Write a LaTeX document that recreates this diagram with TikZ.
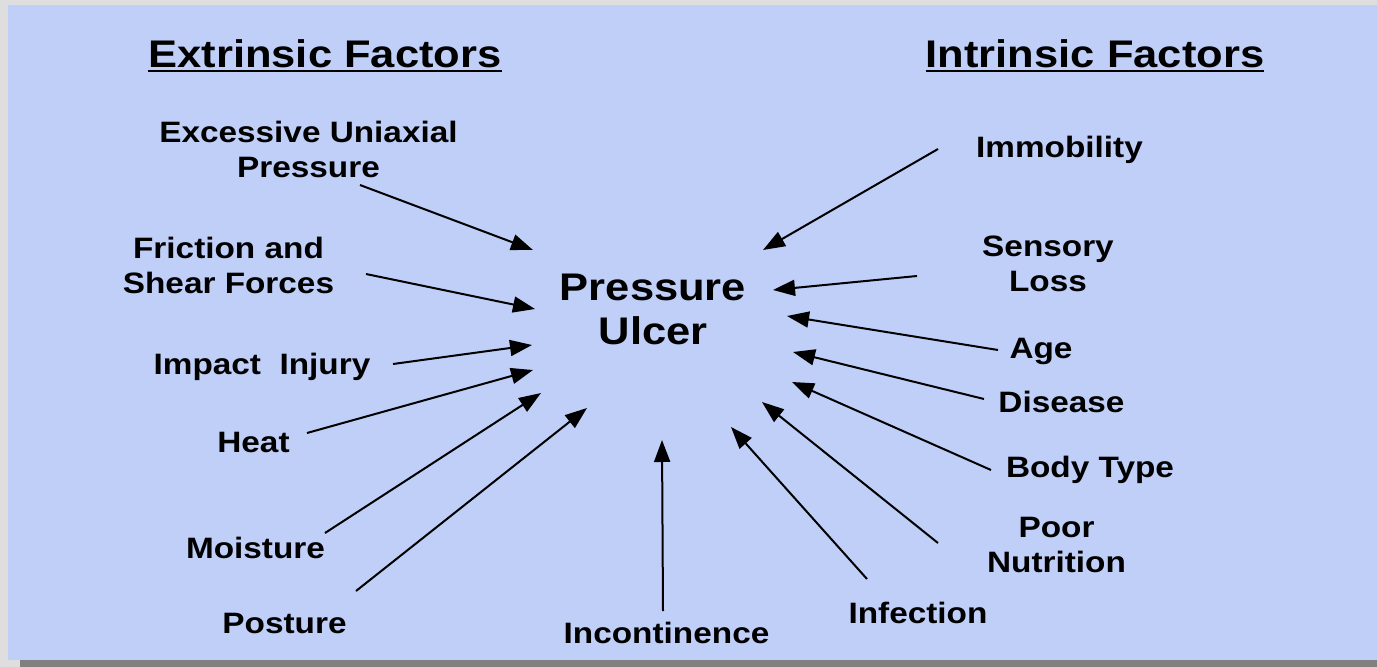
\documentclass[tikz,border=0pt]{standalone}
\usepackage{fontspec}
\setmainfont[FakeStretch=1.13]{Liberation Sans}
\usetikzlibrary{arrows.meta,calc}
\definecolor{framegrey}{RGB}{222,222,222}
\definecolor{shadowgrey}{RGB}{128,128,128}
\definecolor{panelblue}{RGB}{191,207,248}
\begin{document}
\begin{tikzpicture}[x=1pt,y=-1pt,
  lbl/.style={inner sep=0pt, anchor=base, align=center, font=\fontsize{29.5}{34.5}\selectfont\bfseries},
  bigtxt/.style={inner sep=0pt, anchor=base, align=center, font=\fontsize{38.5}{44}\selectfont\bfseries},
  titletxt/.style={inner sep=0pt, anchor=base, font=\fontsize{38.5}{44}\selectfont\bfseries},
  arr/.style={-{Triangle[length=22pt,width=16pt]}, line width=2pt, black},
  uline/.style={line width=2pt, black}]
\useasboundingbox (0,0) rectangle (1377,667);
\fill[framegrey] (0,0) rectangle (1377,667);
\fill[shadowgrey] (20,660) rectangle (1377,667);
\fill[panelblue] (8,5) rectangle (1377,660);

% titles
\node[titletxt] (ext) at (325,67) {Extrinsic Factors};
\node[titletxt] (int) at (1095,67) {Intrinsic Factors};
\draw[uline] ($(ext.base west)+(0,3.5)$) -- ($(ext.base east)+(0,3.5)$);
\draw[uline] ($(int.base west)+(0,3.5)$) -- ($(int.base east)+(0,3.5)$);

% centre (anchored at the baseline of its last line)
\node[bigtxt] (pu) at (653,344) {Pressure\\Ulcer};

% extrinsic labels
\node[lbl] (exc) at (308.5,177) {Excessive Uniaxial\\Pressure};
\node[lbl] (fri) at (228.5,293) {Friction and\\Shear Forces};
\node[lbl] (imp) at (262,374) {Impact\ \ Injury};
\node[lbl] (heat) at (253.5,452) {Heat};
\node[lbl] (moi) at (255.5,558) {Moisture};
\node[lbl] (pos) at (284.5,633) {Posture};
\node[lbl] (inc) at (666.5,643) {Incontinence};

% intrinsic labels
\node[lbl] (inf) at (918,623) {Infection};
\node[lbl] (poor) at (1056.5,572) {Poor\\Nutrition};
\node[lbl] (body) at (1090,477) {Body Type};
\node[lbl] (dis) at (1061.5,412) {Disease};
\node[lbl] (age) at (1041,358) {Age};
\node[lbl] (sens) at (1048,291) {Sensory\\Loss};
\node[lbl] (imm) at (1059.5,157) {Immobility};

% arrow ends
\coordinate (sExc) at (360,185);  \coordinate (tExc) at (533,250);
\coordinate (sFri) at (366,274);  \coordinate (tFri) at (535,309);
\coordinate (sImp) at (393,364);  \coordinate (tImp) at (532,345);
\coordinate (sHeat) at (307,433); \coordinate (tHeat) at (533,370);
\coordinate (sMoi) at (325,533);  \coordinate (tMoi) at (541,393);
\coordinate (sPos) at (356,591);  \coordinate (tPos) at (587,408);
\coordinate (sInc) at (663,611);  \coordinate (tInc) at (662,440);
\coordinate (sInf) at (867,579);  \coordinate (tInf) at (731,427);
\coordinate (sPoor) at (938,543); \coordinate (tPoor) at (762,402);
\coordinate (sBody) at (991,470); \coordinate (tBody) at (792,382);
\coordinate (sDis) at (984,399);  \coordinate (tDis) at (793,352);
\coordinate (sAge) at (998,350);  \coordinate (tAge) at (787,316);
\coordinate (sSens) at (917,276); \coordinate (tSens) at (773,290);
\coordinate (sImm) at (938,149);  \coordinate (tImm) at (763,250);

\foreach \n in {Exc,Fri,Imp,Heat,Moi,Pos,Inc,Inf,Poor,Body,Dis,Age,Sens,Imm}
  \draw[arr] (s\n) -- (t\n);
\end{tikzpicture}
\end{document}
